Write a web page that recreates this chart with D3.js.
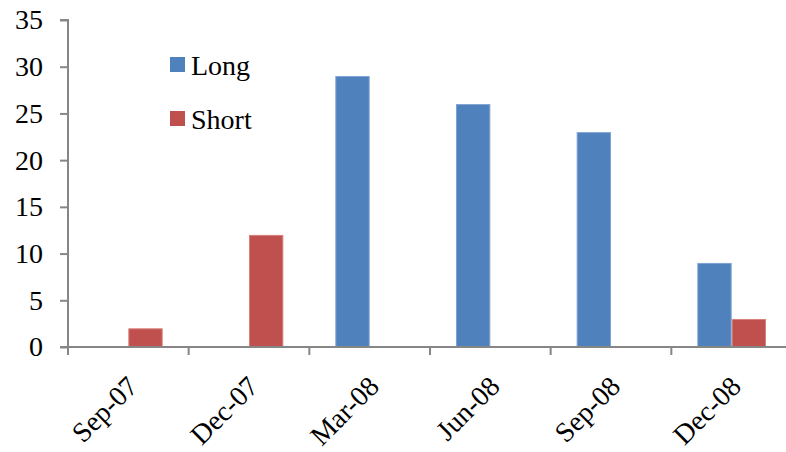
<!DOCTYPE html>
<html><head><meta charset="utf-8">
<script src="https://cdn.jsdelivr.net/npm/d3@7"></script>
<style>body{margin:0;background:#fff}</style>
</head><body>
<script>
const categories = ["Sep-07","Dec-07","Mar-08","Jun-08","Sep-08","Dec-08"];
const seriesNames = ["Long","Short"];
const longValues  = [0, 0, 29, 26, 23, 9];
const shortValues = [2, 12, 0, 0, 0, 3];
const yTicks = [0,5,10,15,20,25,30,35];
const colors = ["#4F81BD","#C0504D"];
const strokes = ["#7FA2D3","#D9807D"];

const W=786,H=452;
const svg=d3.select("body").append("svg").attr("width",W).attr("height",H);
const font="'Liberation Serif','Times New Roman',serif";
const x0=d3.scaleBand().domain(categories).range([68,792]).padding(0);
const x1=d3.scaleBand().domain(seriesNames).range([0,x0.bandwidth()]).paddingInner(0).paddingOuter(0.757);
const y=d3.scaleLinear().domain([0,35]).range([347,20]);

const data=categories.map((c,i)=>({cat:c,vals:[longValues[i],shortValues[i]]}));
const g=svg.append("g");
data.forEach(d=>{
  d.vals.forEach((v,k)=>{
    if(v<=0) return;
    g.append("rect").attr("x",x0(d.cat)+x1(seriesNames[k])+0.5).attr("y",y(v)+0.5)
      .attr("width",x1.bandwidth()-1).attr("height",y(0)-y(v)-0.5)
      .attr("fill",colors[k]).attr("stroke",strokes[k]).attr("stroke-width",1);
  });
});

// y axis
const ya=svg.append("g").attr("transform","translate(68,0)")
  .call(d3.axisLeft(y).tickValues(yTicks).tickSize(8).tickPadding(17).tickFormat(d3.format("d")));
ya.select(".domain").attr("stroke","#868686").attr("stroke-width",2).attr("d","M-8,20H0V347");
ya.selectAll(".tick line").attr("stroke","#868686").attr("stroke-width",2);
ya.selectAll(".tick text").attr("font-family",font).attr("font-size",28).attr("fill","#000");

// x axis
const xa=svg.append("g").attr("transform","translate(0,347)");
xa.append("line").attr("x1",60).attr("x2",792).attr("y1",0).attr("y2",0).attr("stroke","#868686").attr("stroke-width",2);
const bounds=categories.map(c=>x0(c)).concat([x0.range()[1]]);
xa.selectAll(".tk").data(bounds).enter().append("line")
  .attr("x1",d=>d).attr("x2",d=>d).attr("y1",0).attr("y2",8).attr("stroke","#868686").attr("stroke-width",2);
xa.selectAll(".lbl").data(categories).enter().append("text")
  .attr("transform",d=>`translate(${x0(d)+x0.bandwidth()/2+11},41) rotate(-45)`)
  .attr("text-anchor","end").attr("font-family",font).attr("font-size",28).attr("fill","#000")
  .text(d=>d);

// legend
const leg=svg.append("g");
seriesNames.forEach((s,k)=>{
  const ly=57+k*54;
  leg.append("rect").attr("x",170).attr("y",ly).attr("width",15).attr("height",15).attr("fill",colors[k]);
  leg.append("text").attr("x",191).attr("y",ly+18).attr("font-family",font).attr("font-size",28).attr("fill","#000").text(s);
});
</script>
</body></html>
